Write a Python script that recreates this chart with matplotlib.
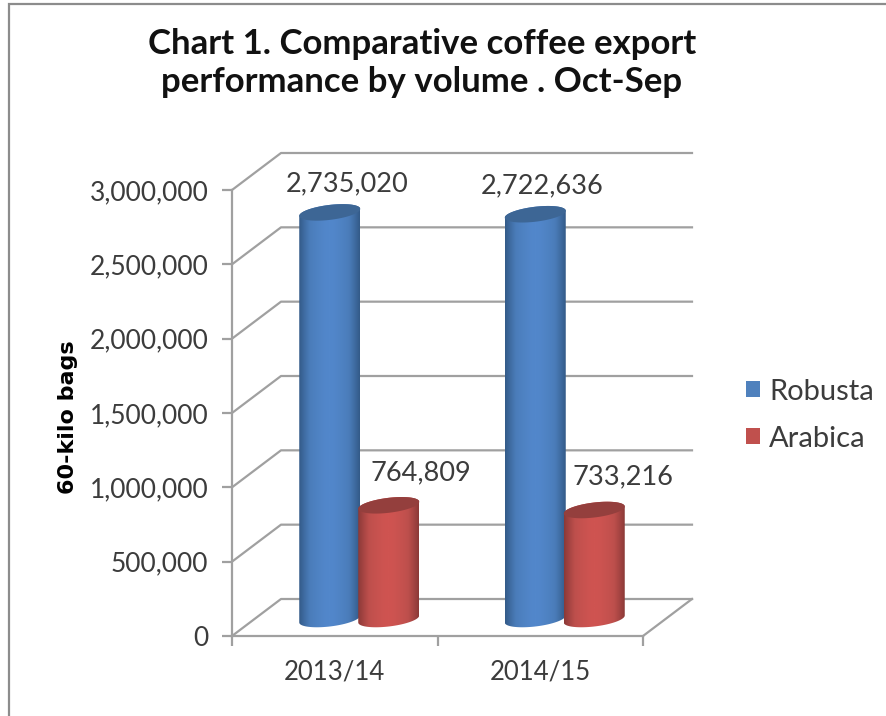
import numpy as np
import matplotlib.pyplot as plt
from matplotlib.colors import LinearSegmentedColormap
from matplotlib.patches import Patch, PathPatch, Rectangle
from matplotlib.path import Path

periods = ["2013/14", "2014/15"]
robusta = [2735020, 2722636]
arabica = [764809, 733216]
y_ticks = [0, 500000, 1000000, 1500000, 2000000, 2500000, 3000000]

W, H = 886, 716
plt.rcParams['font.family'] = ['Lato', 'DejaVu Sans']

fig = plt.figure(figsize=(W / 100, H / 100), dpi=100)
ax = fig.add_axes([232 / W, 1 - 636 / H, 411 / W, 446 / H])
ax.set_xlim(0, 2)
ax.set_ylim(0, 3000000)

# conversion from pixels to data units, the 3d look is faked with these
px_x = 2 / 411
px_y = 3000000 / 446
depth_x = 49 * px_x
depth_y = 37 * px_y
GRID = '#a0a0a0'
INK = '#3c3c3c'

# outer chart frame, runs off the right and bottom edge
fig.add_artist(Rectangle((9 / W, -0.1), 1.1, 1.1 - 4 / H, transform=fig.transFigure,
                         fill=False, ec='#8c8c8c', lw=1.6))

# back wall, side wall and floor
for v in y_ticks:
    ax.plot([0, depth_x, 2 + depth_x], [v, v + depth_y, v + depth_y],
            color=GRID, lw=1.6, clip_on=False, zorder=1)
ax.plot([2, 2 + depth_x], [0, depth_y], color=GRID, lw=1.6, clip_on=False, zorder=1)

for side in ['top', 'right']:
    ax.spines[side].set_visible(False)
for side in ['left', 'bottom']:
    ax.spines[side].set_color(GRID)
    ax.spines[side].set_linewidth(1.6)

ax.set_yticks(y_ticks)
ax.set_yticklabels([f"{v:,}" for v in y_ticks], fontsize=19, color=INK)
ax.set_xticks([0, 1, 2])
ax.set_xticklabels([])
ax.set_xticks([0.5, 1.5], minor=True)
ax.set_xticklabels(periods, minor=True, fontsize=18.5, color=INK)
ax.tick_params(axis='y', color=GRID, width=1.6, length=7, pad=10)
ax.tick_params(axis='x', which='major', color=GRID, width=1.6, length=7)
ax.tick_params(axis='x', which='minor', length=0, pad=17)

ax.set_ylabel("60-kilo bags", fontsize=16, fontweight='bold', color='black', family='DejaVu Sans')
ax.yaxis.set_label_coords((78 - 232) / 411, 0.49)


def cylinder(cx, value, cmap, cap_color):
    a = 30.5 * px_x
    b = 7.5 * px_y
    tilt = 3.5 * px_y
    base = 17 * px_y
    # lower half of the base ellipse, then upper half of the top one
    t1 = np.linspace(np.pi, 2 * np.pi, 40)
    t2 = np.linspace(0, np.pi, 40)
    xs = np.r_[cx + a * np.cos(t1), cx + a * np.cos(t2)]
    ys = np.r_[base + b * np.sin(t1) + tilt * np.cos(t1),
               base + value + b * np.sin(t2) + tilt * np.cos(t2)]
    body = PathPatch(Path(np.c_[xs, ys]), fc='none', ec='none')
    ax.add_patch(body)
    grad = np.abs(np.linspace(-1, 1, 200)).reshape(1, -1) ** 1.6
    im = ax.imshow(grad, extent=[cx - a, cx + a, 0, base + value + b + tilt], aspect='auto',
                   cmap=cmap, vmin=0, vmax=1, zorder=3)
    im.set_clip_path(body)
    t = np.linspace(0, 2 * np.pi, 80)
    ax.fill(cx + a * np.cos(t), base + value + b * np.sin(t) + tilt * np.cos(t),
            color=cap_color, zorder=4, clip_on=False, lw=0)


blue_map = LinearSegmentedColormap.from_list('b', ['#5287cb', '#4a7cb9', '#335a88'])
red_map = LinearSegmentedColormap.from_list('r', ['#cf5451', '#bd4f4c', '#8b3937'])

spread = 29.5 * px_x
for i in range(len(periods)):
    cx = i + 0.5 + depth_x / 2
    cylinder(cx - spread, robusta[i], blue_map, '#3d6695')
    cylinder(cx + spread, arabica[i], red_map, '#943f3d')

ax.set_xlim(0, 2)
ax.set_ylim(0, 3000000)

# value labels sit a little above and right of the caps
lift = 17 * px_y
shifts = [(17, 29), (7, 28), (32, 32), (29, 33)]
label_vals = [robusta[0], robusta[1], arabica[0], arabica[1]]
centers = [0.5 + depth_x / 2 - spread, 1.5 + depth_x / 2 - spread,
           0.5 + depth_x / 2 + spread, 1.5 + depth_x / 2 + spread]
for c, v, (sx, sy) in zip(centers, label_vals, shifts):
    ax.annotate(f"{v:,}", xy=(c, v + lift), xytext=(sx * 0.72, sy * 0.72), textcoords='offset points',
                ha='center', va='center', fontsize=19.5, color=INK,
                zorder=6, annotation_clip=False)

handles = [Patch(fc='#4f81bd', ec='none'), Patch(fc='#c0504d', ec='none')]
fig.legend(handles, ["Robusta", "Arabica"], loc='center left', bbox_to_anchor=(720 / W, 1 - 415 / H),
           frameon=False, fontsize=21, handlelength=0.48, handleheight=0.48, handletextpad=0.3,
           labelspacing=0.72, labelcolor=INK)

fig.text(422 / W, 1 - 63 / H, "Chart 1. Comparative coffee export\nperformance by volume . Oct-Sep",
         ha='center', va='center', fontsize=25, fontweight='bold', color='#111111', linespacing=1.2)

fig.savefig('out.png', dpi=100)
